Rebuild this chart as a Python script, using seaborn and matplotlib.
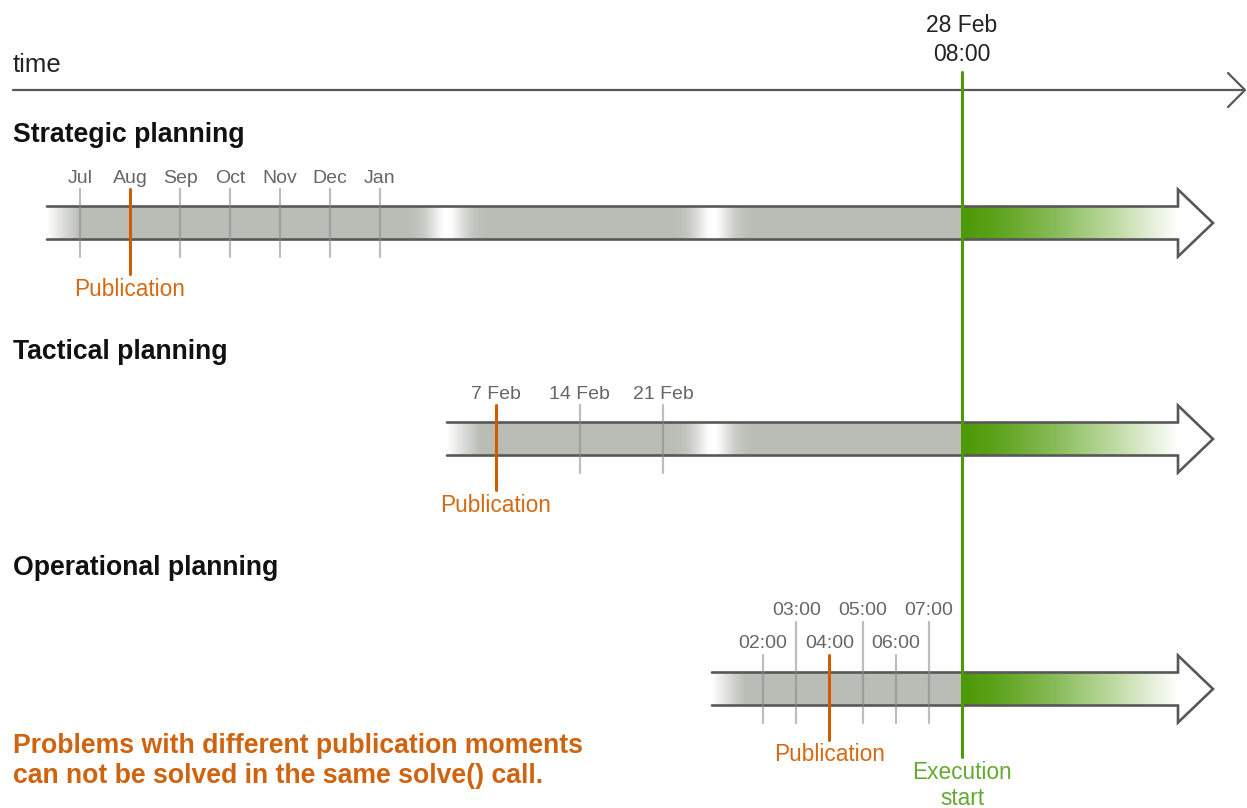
import numpy as np
import matplotlib
matplotlib.use('Agg')
import matplotlib.pyplot as plt
from matplotlib.colors import to_rgb
import seaborn as sns

# tick labels of each planning horizon and the publication moment
strategic_ticks = ['Jul', 'Aug', 'Sep', 'Oct', 'Nov', 'Dec', 'Jan']
strategic_pub = 'Aug'
tactical_ticks = ['7 Feb', '14 Feb', '21 Feb']
tactical_pub = '7 Feb'
operational_ticks = ['02:00', '03:00', '04:00', '05:00', '06:00', '07:00']
operational_pub = '04:00'
execution_moment = ['28 Feb', '08:00']

GRAY = '#BABDB6'
EDGE = '#585858'
GREEN = '#4E9A06'
ORANGE = '#CE5C00'
LABEL = '#666666'

sns.set_theme(style='white')
plt.rcParams['font.family'] = ['Liberation Sans', 'DejaVu Sans']

fig = plt.figure(figsize=(12.47, 8.08), dpi=100)
ax = fig.add_axes([0, 0, 1, 1])

EXEC_X = 962
HEAD_X = 1178
TIP_X = 1213


def band(x0, cy, gaps):
    h = 16.5
    H = 33.5
    white = np.ones(3)
    # gray part, fading in from white at the left and with white "time skips"
    xs = np.arange(x0, EXEC_X) + 0.5
    w = np.clip(1 - (xs - x0) / 33, 0, 1)
    for g in gaps:
        w = np.maximum(w, np.exp(-((xs - g) / 19) ** 2))
    gray = np.array(to_rgb(GRAY))
    img = gray * (1 - w[:, None]) + white * w[:, None]
    ax.imshow(img[None], extent=(x0, EXEC_X, cy + h, cy - h), aspect='auto',
              interpolation='bilinear', zorder=1)
    # green part after execution start
    xs2 = np.arange(EXEC_X, HEAD_X) + 0.5
    t = ((xs2 - EXEC_X) / (HEAD_X - EXEC_X)) ** 1.3
    green = np.array(to_rgb(GREEN))
    img2 = green * (1 - t[:, None]) + white * t[:, None]
    ax.imshow(img2[None], extent=(EXEC_X, HEAD_X, cy + h, cy - h), aspect='auto',
              interpolation='bilinear', zorder=1)
    ax.fill([HEAD_X, TIP_X, HEAD_X], [cy - H, cy, cy + H], color='white', zorder=1)
    ax.plot([x0, HEAD_X, HEAD_X, TIP_X, HEAD_X, HEAD_X, x0],
            [cy - h, cy - h, cy - H, cy, cy + H, cy + h, cy + h],
            color=EDGE, lw=1.9, zorder=3, solid_joinstyle='miter')


def ticks(labels, pub, x_first, step, cy, label_y, pub_y, stagger=False):
    for i, lab in enumerate(labels):
        x = x_first + i * step
        top = cy - 34
        ly = label_y
        if stagger and i % 2 == 1:
            top = cy - 67
            ly = label_y - 33
        if lab == pub:
            ax.plot([x, x], [top, cy + 51], color=ORANGE, lw=2.2, zorder=4)
        else:
            ax.plot([x, x], [top, cy + 34], color='#888888', alpha=0.55, lw=1.6, zorder=4)
        ax.text(x, ly, lab, ha='center', va='baseline', fontsize=14, color=LABEL)
    px = x_first + labels.index(pub) * step
    ax.text(px, pub_y, 'Publication', ha='center', va='baseline', fontsize=16.3,
            color='#d46a14')


# time axis
ax.plot([13, 1244], [90, 90], color=EDGE, lw=1.6, zorder=2)
ax.plot([1228, 1245, 1228], [73, 90, 107], color=EDGE, lw=1.6, zorder=2)
ax.text(13, 72, 'time', fontsize=18.5, color='#222222', va='baseline')
ax.text(EXEC_X, 32, execution_moment[0], ha='center', va='baseline', fontsize=16.5, color='#222222')
ax.text(EXEC_X, 61, execution_moment[1], ha='center', va='baseline', fontsize=16.5, color='#222222')

# strategic
ax.text(13, 142, 'Strategic planning', fontsize=19.2, fontweight='bold', color='#111111', va='baseline')
band(47, 223, [447, 713])
ticks(strategic_ticks, strategic_pub, 80, 50, 223, 183, 296)

# tactical
ax.text(13, 359, 'Tactical planning', fontsize=19.2, fontweight='bold', color='#111111', va='baseline')
band(447, 439, [713])
ticks(tactical_ticks, tactical_pub, 496, 83.5, 439, 399, 512)

# operational
ax.text(13, 575, 'Operational planning', fontsize=19.2, fontweight='bold', color='#111111', va='baseline')
band(712, 689, [])
ticks(operational_ticks, operational_pub, 763, 33.2, 689, 648, 761, stagger=True)

# execution start line
ax.plot([EXEC_X, EXEC_X], [72, 757], color=GREEN, lw=2.2, zorder=5)
ax.text(EXEC_X, 779, 'Execution', ha='center', va='baseline', fontsize=16.3, color='#66a833')
ax.text(EXEC_X, 805, 'start', ha='center', va='baseline', fontsize=16.3, color='#66a833')

ax.text(13, 753, 'Problems with different publication moments', fontsize=19.2,
        fontweight='bold', color='#cf6310', va='baseline')
ax.text(13, 783, 'can not be solved in the same solve() call.', fontsize=19.2,
        fontweight='bold', color='#cf6310', va='baseline')

ax.set_xlim(0, 1247)
ax.set_ylim(808, 0)
ax.axis('off')
fig.savefig('out.png', dpi=100)
